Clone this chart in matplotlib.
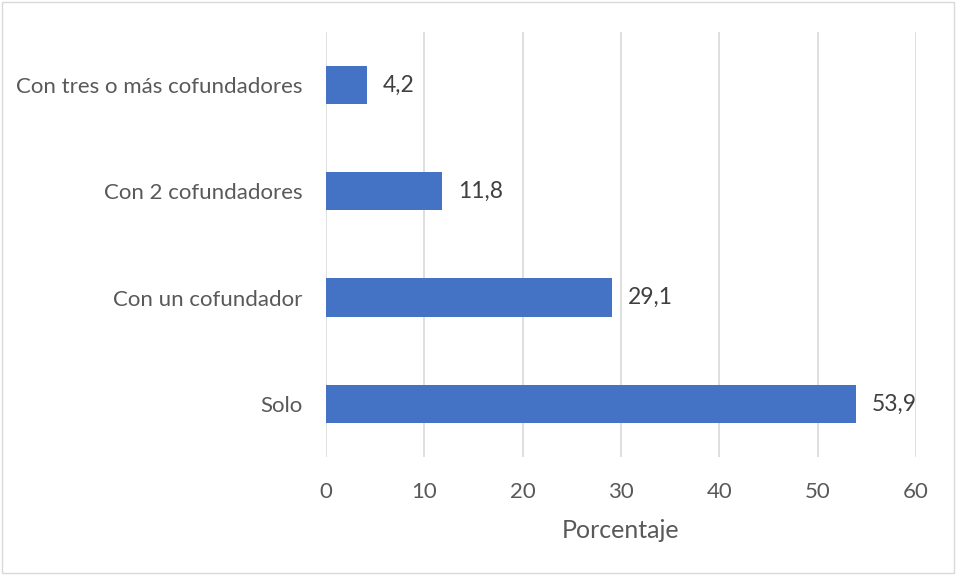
import matplotlib
matplotlib.use("Agg")
import matplotlib.pyplot as plt
from matplotlib.patches import Rectangle

categorias = ["Solo", "Con un cofundador", "Con 2 cofundadores", "Con tres o más cofundadores"]
porcentajes = [53.9, 29.1, 11.8, 4.2]
ticks_x = [0, 10, 20, 30, 40, 50, 60]

plt.rcParams["font.family"] = ["Lato", "DejaVu Sans"]
gris = "#595959"

fig = plt.figure(figsize=(9.56, 5.75), dpi=100)
ax = fig.add_axes([0.341, 0.2052, 0.617, 0.7392])

pos = list(range(len(categorias)))
ax.barh(pos, porcentajes, height=0.36, color="#4472C4", zorder=3)
for y, v in zip(pos, porcentajes):
    ax.text(v + 1.6, y, f"{v:.1f}".replace(".", ","), va="center", ha="left",
            fontsize=16.5, color="#404040")

ax.set_xlim(0, 60)
ax.set_ylim(-0.5, len(categorias) - 0.5)
ax.set_xticks(ticks_x)
ax.set_yticks(pos)
ax.set_yticklabels(categorias)
ax.tick_params(axis="both", length=0, labelsize=16, labelcolor=gris)
ax.tick_params(axis="x", pad=18)
ax.tick_params(axis="y", pad=17)
ax.grid(axis="x", color="#D9D9D9", lw=1.2, zorder=0)
for s in ax.spines.values():
    s.set_visible(False)
ax.set_xlabel("Porcentaje", fontsize=18, color=gris, labelpad=12)

fig.patches.append(Rectangle((0.002, 0.003), 0.996, 0.994, transform=fig.transFigure,
                             fill=False, edgecolor="#D9D9D9", lw=1))

fig.savefig("out.png", dpi=100, facecolor="white")
